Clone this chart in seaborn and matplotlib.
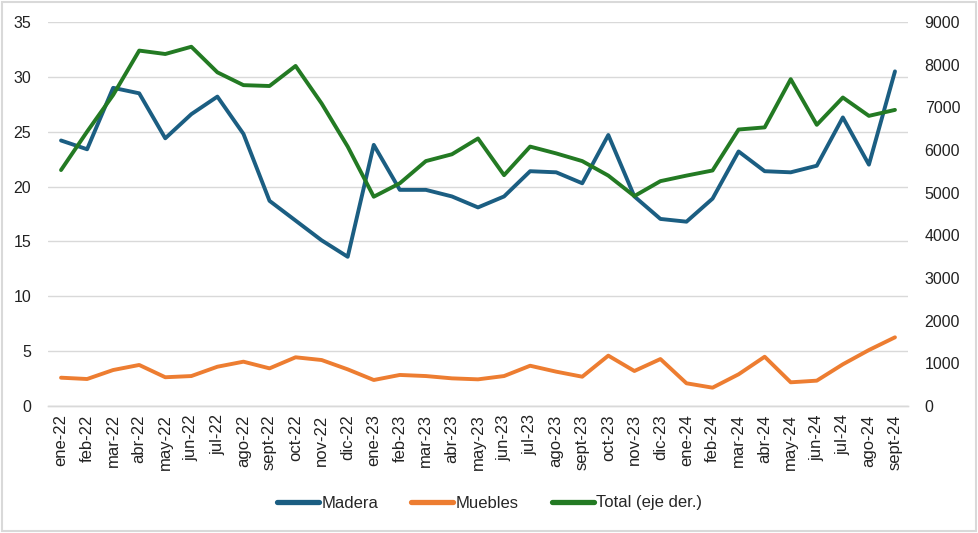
import numpy as np
import pandas as pd
import matplotlib
matplotlib.use("Agg")
import matplotlib.pyplot as plt
import seaborn as sns
from matplotlib.lines import Line2D
from matplotlib.patches import Rectangle

months = ['ene-22', 'feb-22', 'mar-22', 'abr-22', 'may-22', 'jun-22', 'jul-22', 'ago-22', 'sept-22',
          'oct-22', 'nov-22', 'dic-22', 'ene-23', 'feb-23', 'mar-23', 'abr-23', 'may-23', 'jun-23',
          'jul-23', 'ago-23', 'sept-23', 'oct-23', 'nov-23', 'dic-23', 'ene-24', 'feb-24', 'mar-24',
          'abr-24', 'may-24', 'jun-24', 'jul-24', 'ago-24', 'sept-24']

madera = [24.2, 23.4, 29.0, 28.5, 24.4, 26.6, 28.2, 24.8, 18.7, 16.9, 15.1, 13.6, 23.8, 19.7, 19.7,
          19.1, 18.1, 19.1, 21.4, 21.3, 20.3, 24.7, 19.1, 17.05, 16.8, 18.9, 23.2, 21.4, 21.3, 21.9,
          26.3, 22.0, 30.5]

muebles = [2.58, 2.46, 3.28, 3.74, 2.62, 2.73, 3.58, 4.04, 3.43, 4.44, 4.19, 3.34, 2.37, 2.83, 2.73,
           2.52, 2.43, 2.73, 3.67, 3.13, 2.67, 4.59, 3.19, 4.28, 2.07, 1.67, 2.89, 4.49, 2.16, 2.31,
           3.80, 5.10, 6.26]

total = [5530, 6430, 7290, 8330, 8250, 8420, 7820, 7520, 7500, 7970, 7090, 6080, 4905, 5220, 5740,
         5900, 6270, 5410, 6080, 5920, 5740, 5400, 4920, 5270, 5400, 5520, 6480, 6530, 7660, 6590,
         7230, 6800, 6940]

C_MADERA = '#1b5e82'
C_MUEBLES = '#ed7d31'
C_TOTAL = '#237a23'
GRID = '#d9d9d9'

sns.set_theme(style='white')
plt.rcParams['font.family'] = ['Liberation Sans', 'DejaVu Sans']

df = pd.DataFrame({'pos': np.arange(len(months)), 'Madera': madera,
                   'Muebles': muebles, 'Total': total})

fig = plt.figure(figsize=(9.79, 5.33), dpi=100)
ax = fig.add_axes([48 / 979, 1 - 406 / 533, (908 - 48) / 979, (406 - 22) / 533])
ax2 = ax.twinx()

sns.lineplot(data=df, x='pos', y='Madera', ax=ax, color=C_MADERA, linewidth=2.8)
sns.lineplot(data=df, x='pos', y='Muebles', ax=ax, color=C_MUEBLES, linewidth=2.8)
sns.lineplot(data=df, x='pos', y='Total', ax=ax2, color=C_TOTAL, linewidth=2.8)

ax.set_xlim(-0.5, len(months) - 0.5)
ax.set_ylim(0, 35)
ax2.set_ylim(0, 9000)
ax.set_yticks(np.arange(0, 36, 5))
ax2.set_yticks(np.arange(0, 9001, 1000))
ax.yaxis.grid(True, color=GRID, linewidth=1)
ax.set_axisbelow(True)
ax.set_xlabel('')
ax.set_ylabel('')
ax2.set_ylabel('')

ax.set_xticks(np.arange(len(months)))
ax.set_xticklabels(months, rotation=90, fontsize=12)
ax.set_xticks(np.arange(len(months) + 1) - 0.5, minor=True)
ax.tick_params(axis='x', which='major', length=0, pad=6, colors='#222222')
ax.tick_params(axis='x', which='minor', length=5, width=1, color=GRID, direction='out')
ax.tick_params(axis='y', length=0, labelsize=11.5, colors='#222222', pad=12)
ax2.tick_params(axis='y', length=0, labelsize=11.5, colors='#222222', pad=12)

for a in (ax, ax2):
    for s in ('top', 'left', 'right'):
        a.spines[s].set_visible(False)
    a.spines['bottom'].set_color(GRID)
    a.spines['bottom'].set_linewidth(1)

handles = [Line2D([], [], color=C_MADERA, linewidth=3.8),
           Line2D([], [], color=C_MUEBLES, linewidth=3.8),
           Line2D([], [], color=C_TOTAL, linewidth=3.8)]
fig.legend(handles, ['Madera', 'Muebles', 'Total (eje der.)'], loc='center',
           bbox_to_anchor=(0.5, 1 - 503 / 533), ncol=3, frameon=False, fontsize=12,
           handlelength=2.5, handletextpad=0.15, columnspacing=2.0)

fig.patches.append(Rectangle((0.002, 0.003), 0.995, 0.993, transform=fig.transFigure,
                             fill=False, edgecolor='#d9d9d9', linewidth=1.5))

fig.savefig('out.png', dpi=100)
